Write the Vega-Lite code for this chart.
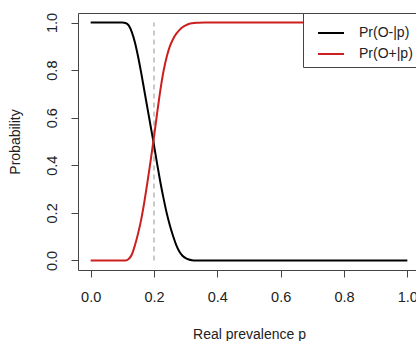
{
  "$schema": "https://vega.github.io/schema/vega-lite/v6.json",
  "autosize": "none",
  "padding": {"left": 78, "top": 13, "right": 0, "bottom": 71},
  "width": 342,
  "height": 257,
  "background": "white",
  "config": {
    "view": {"stroke": "#444", "strokeWidth": 1},
    "font": "Liberation Sans",
    "axis": {
      "domain": false, "grid": false, "tickSize": 7, "tickColor": "#444",
      "labelFont": "Liberation Sans", "labelFontSize": 14.5, "labelColor": "#222",
      "titleFont": "Liberation Sans", "titleFontSize": 14, "titleFontWeight": "normal", "titleColor": "#222"
    }
  },
  "datasets": {
    "curves": [
      {"p": 0.0, "value": 1, "series": "Pr(O-|p)"},
      {"p": 0.05, "value": 1, "series": "Pr(O-|p)"},
      {"p": 0.1, "value": 1, "series": "Pr(O-|p)"},
      {"p": 0.11, "value": 0.998, "series": "Pr(O-|p)"},
      {"p": 0.12, "value": 0.988, "series": "Pr(O-|p)"},
      {"p": 0.13, "value": 0.96, "series": "Pr(O-|p)"},
      {"p": 0.14, "value": 0.915, "series": "Pr(O-|p)"},
      {"p": 0.15, "value": 0.855, "series": "Pr(O-|p)"},
      {"p": 0.16, "value": 0.785, "series": "Pr(O-|p)"},
      {"p": 0.17, "value": 0.71, "series": "Pr(O-|p)"},
      {"p": 0.18, "value": 0.635, "series": "Pr(O-|p)"},
      {"p": 0.19, "value": 0.56, "series": "Pr(O-|p)"},
      {"p": 0.2, "value": 0.485, "series": "Pr(O-|p)"},
      {"p": 0.21, "value": 0.405, "series": "Pr(O-|p)"},
      {"p": 0.22, "value": 0.33, "series": "Pr(O-|p)"},
      {"p": 0.23, "value": 0.262, "series": "Pr(O-|p)"},
      {"p": 0.24, "value": 0.2, "series": "Pr(O-|p)"},
      {"p": 0.25, "value": 0.148, "series": "Pr(O-|p)"},
      {"p": 0.26, "value": 0.104, "series": "Pr(O-|p)"},
      {"p": 0.27, "value": 0.066, "series": "Pr(O-|p)"},
      {"p": 0.28, "value": 0.038, "series": "Pr(O-|p)"},
      {"p": 0.29, "value": 0.02, "series": "Pr(O-|p)"},
      {"p": 0.3, "value": 0.01, "series": "Pr(O-|p)"},
      {"p": 0.31, "value": 0.004, "series": "Pr(O-|p)"},
      {"p": 0.32, "value": 0.001, "series": "Pr(O-|p)"},
      {"p": 0.33, "value": 0, "series": "Pr(O-|p)"},
      {"p": 0.5, "value": 0, "series": "Pr(O-|p)"},
      {"p": 1.0, "value": 0, "series": "Pr(O-|p)"},
      {"p": 0.0, "value": 0, "series": "Pr(O+|p)"},
      {"p": 0.05, "value": 0, "series": "Pr(O+|p)"},
      {"p": 0.11, "value": 0, "series": "Pr(O+|p)"},
      {"p": 0.12, "value": 0.006, "series": "Pr(O+|p)"},
      {"p": 0.13, "value": 0.025, "series": "Pr(O+|p)"},
      {"p": 0.14, "value": 0.065, "series": "Pr(O+|p)"},
      {"p": 0.15, "value": 0.115, "series": "Pr(O+|p)"},
      {"p": 0.16, "value": 0.175, "series": "Pr(O+|p)"},
      {"p": 0.17, "value": 0.25, "series": "Pr(O+|p)"},
      {"p": 0.18, "value": 0.335, "series": "Pr(O+|p)"},
      {"p": 0.19, "value": 0.425, "series": "Pr(O+|p)"},
      {"p": 0.2, "value": 0.52, "series": "Pr(O+|p)"},
      {"p": 0.21, "value": 0.62, "series": "Pr(O+|p)"},
      {"p": 0.22, "value": 0.715, "series": "Pr(O+|p)"},
      {"p": 0.23, "value": 0.795, "series": "Pr(O+|p)"},
      {"p": 0.24, "value": 0.855, "series": "Pr(O+|p)"},
      {"p": 0.25, "value": 0.9, "series": "Pr(O+|p)"},
      {"p": 0.26, "value": 0.93, "series": "Pr(O+|p)"},
      {"p": 0.27, "value": 0.952, "series": "Pr(O+|p)"},
      {"p": 0.28, "value": 0.968, "series": "Pr(O+|p)"},
      {"p": 0.29, "value": 0.98, "series": "Pr(O+|p)"},
      {"p": 0.3, "value": 0.988, "series": "Pr(O+|p)"},
      {"p": 0.31, "value": 0.994, "series": "Pr(O+|p)"},
      {"p": 0.32, "value": 0.997, "series": "Pr(O+|p)"},
      {"p": 0.34, "value": 0.999, "series": "Pr(O+|p)"},
      {"p": 0.36, "value": 1, "series": "Pr(O+|p)"},
      {"p": 0.5, "value": 1, "series": "Pr(O+|p)"},
      {"p": 1.0, "value": 1, "series": "Pr(O+|p)"}
    ],
    "cutoff": [{"p": 0.2, "y0": 0, "y1": 1}]
  },
  "layer": [
    {
      "data": {"name": "cutoff"},
      "mark": {"type": "rule", "color": "#b8b8b8", "strokeWidth": 1.5, "strokeDash": [5, 4]},
      "encoding": {
        "x": {"field": "p", "type": "quantitative", "scale": {"domain": [-0.04, 1.04], "nice": false, "zero": false}},
        "y": {"field": "y0", "type": "quantitative", "scale": {"domain": [-0.04, 1.04], "nice": false, "zero": false}},
        "y2": {"field": "y1"}
      }
    },
    {
      "data": {"name": "curves"},
      "mark": {"type": "line", "strokeWidth": 2, "interpolate": "monotone"},
      "encoding": {
        "x": {
          "field": "p", "type": "quantitative",
          "scale": {"domain": [-0.04, 1.04], "nice": false, "zero": false},
          "axis": {"values": [0, 0.2, 0.4, 0.6, 0.8, 1.0], "format": ".1f", "labelPadding": 13, "title": "Real prevalence p", "titlePadding": 24}
        },
        "y": {
          "field": "value", "type": "quantitative",
          "scale": {"domain": [-0.04, 1.04], "nice": false, "zero": false},
          "axis": {"values": [0, 0.2, 0.4, 0.6, 0.8, 1.0], "format": ".1f", "labelAngle": -90, "labelAlign": "center", "labelBaseline": "bottom", "labelPadding": 12, "title": "Probability", "titlePadding": 22}
        },
        "color": {
          "field": "series", "type": "nominal",
          "scale": {"domain": ["Pr(O-|p)", "Pr(O+|p)"], "range": ["#000000", "#cc1f1f"]},
          "legend": {
            "orient": "none", "legendX": 225, "legendY": 0, "title": null,
            "fillColor": "white", "strokeColor": "#444", "padding": 6,
            "symbolType": "stroke", "symbolSize": 676, "symbolStrokeWidth": 2, "symbolOffset": 8,
            "labelFontSize": 14, "labelFont": "Liberation Sans", "labelColor": "#222", "labelOffset": 14,
            "rowPadding": -8,
            "labelExpr": "datum.label + '\u00a0\u00a0\u00a0'"
          }
        }
      }
    }
  ]
}
